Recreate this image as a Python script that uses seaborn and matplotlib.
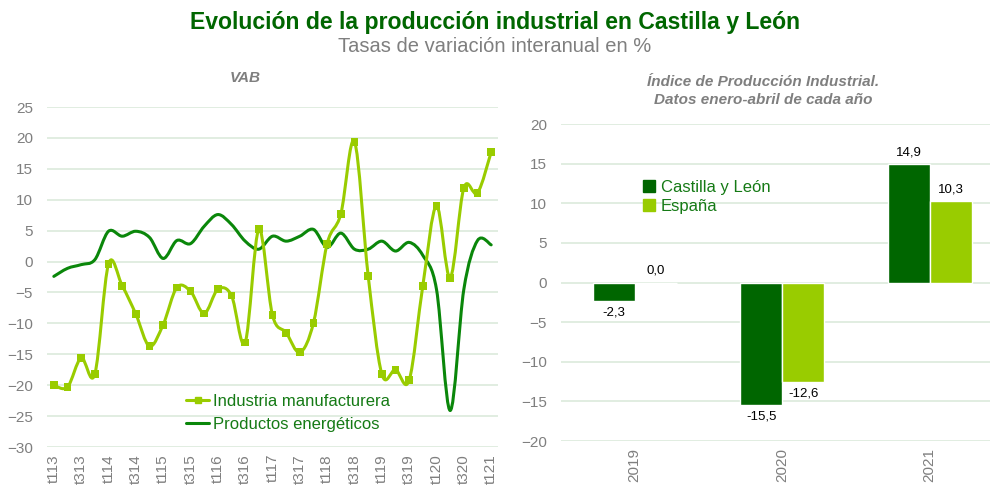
import numpy as np
import pandas as pd
import matplotlib.pyplot as plt
import seaborn as sns
from matplotlib.path import Path
from matplotlib.patches import PathPatch
from matplotlib.lines import Line2D
from matplotlib import font_manager

# VAB: tasas de variación interanual por trimestre (t113 = 1er trim. 2013)
trimestres = ['t113', 't213', 't313', 't413', 't114', 't214', 't314', 't414',
              't115', 't215', 't315', 't415', 't116', 't216', 't316', 't416',
              't117', 't217', 't317', 't417', 't118', 't218', 't318', 't418',
              't119', 't219', 't319', 't419', 't120', 't220', 't320', 't420',
              't121']
industria = [-20.0, -20.3, -15.6, -18.2, -0.4, -3.9, -8.5, -13.7,
             -10.2, -4.2, -4.8, -8.4, -4.5, -5.5, -13.1, 5.2,
             -8.7, -11.5, -14.7, -9.9, 2.9, 7.7, 19.4, -2.3,
             -18.2, -17.5, -19.2, -3.9, 9.0, -2.6, 11.9, 11.1, 17.7]
energeticos = [-2.4, -1.1, -0.5, 0.3, 4.9, 4.1, 4.9, 3.9,
               0.5, 3.4, 2.9, 5.7, 7.6, 6.0, 3.3, 2.0,
               4.1, 3.3, 4.1, 5.2, 2.3, 4.6, 2.0, 2.0,
               3.3, 1.7, 3.1, 1.0, -4.5, -24.1, -4.5, 3.4, 2.7]

# IPI, datos enero-abril
anios = ['2019', '2020', '2021']
ipi_cyl = [-2.3, -15.5, 14.9]
ipi_esp = [0.0, -12.6, 10.3]

verde_osc = '#006600'
verde_claro = '#99CC00'
verde_linea = '#0A870A'
verde_texto = '#157A15'
gris = '#7F7F7F'
rejilla = '#DCEADC'

sns.set_theme(style='white')
plt.rcParams['font.family'] = ['Liberation Sans', 'DejaVu Sans']

nombres = {f.name for f in font_manager.fontManager.ttflist}
hay_narrow = 'Liberation Sans Narrow' in nombres
fuente_tit = ['Liberation Sans Narrow', 'Liberation Sans'] if hay_narrow else ['Liberation Sans']


def curva_suave(ax, x, y, color, lw):
    # linea suavizada tipo Excel (bezier por los puntos)
    x = np.asarray(x, float)
    y = np.asarray(y, float)
    xp = np.concatenate([[x[0]], x, [x[-1]]])
    yp = np.concatenate([[y[0]], y, [y[-1]]])
    verts = [(x[0], y[0])]
    codes = [Path.MOVETO]
    for i in range(len(x) - 1):
        c1 = (x[i] + (xp[i + 2] - xp[i]) / 6, y[i] + (yp[i + 2] - yp[i]) / 6)
        c2 = (x[i + 1] - (xp[i + 3] - xp[i + 1]) / 6, y[i + 1] - (yp[i + 3] - yp[i + 1]) / 6)
        verts += [c1, c2, (x[i + 1], y[i + 1])]
        codes += [Path.CURVE4] * 3
    ax.add_patch(PathPatch(Path(verts, codes), facecolor='none', edgecolor=color,
                           lw=lw, capstyle='round', joinstyle='round', zorder=3))


fig = plt.figure(figsize=(9.9, 4.9), dpi=100)
ax1 = fig.add_axes([47 / 990, 43 / 490, 451 / 990, 340 / 490])
ax2 = fig.add_axes([561 / 990, 49 / 490, 429 / 990, 317 / 490])

# ---- VAB ----
df_vab = pd.DataFrame({'pos': np.arange(len(trimestres)), 'industria': industria,
                       'energeticos': energeticos})
curva_suave(ax1, df_vab.pos, df_vab.energeticos, verde_linea, 2.2)
curva_suave(ax1, df_vab.pos, df_vab.industria, verde_claro, 2.2)
sns.scatterplot(data=df_vab, x='pos', y='industria', marker='s', color=verde_claro,
                s=32, edgecolor='none', ax=ax1, zorder=4)
ax1.set_xlim(-0.5, len(trimestres) - 0.5)
ax1.set_ylim(-30, 25)
ax1.set_yticks(range(-30, 26, 5))
ax1.set_xticks(df_vab.pos[::2])
ax1.set_xticklabels(trimestres[::2], rotation=90)
ax1.set_xlabel('')
ax1.set_ylabel('')

h1 = [Line2D([0], [0], color=verde_claro, lw=2.2, marker='s', markersize=5),
      Line2D([0], [0], color=verde_linea, lw=2.2)]
ax1.legend(h1, ['Industria manufacturera', 'Productos energéticos'], loc='upper left',
           bbox_to_anchor=(0.29, 0.18), frameon=False, fontsize=12, labelcolor=verde_texto,
           handlelength=1.4, handletextpad=0.2, labelspacing=0.45, borderpad=0)

# ---- IPI ----
df_ipi = pd.DataFrame({'anio': anios * 2, 'valor': ipi_cyl + ipi_esp,
                       'zona': ['Castilla y León'] * 3 + ['España'] * 3})
sns.barplot(data=df_ipi, x='anio', y='valor', hue='zona', palette=[verde_osc, verde_claro],
            width=0.57, saturation=1, legend=False, ax=ax2, zorder=3)
for cont in ax2.containers:
    ax2.bar_label(cont, labels=[f'{v:.1f}'.replace('.', ',') for v in cont.datavalues],
                  padding=4, fontsize=9.5, color='black')
ax2.set_xlim(-0.5, 2.41)
ax2.set_ylim(-20, 20)
ax2.set_yticks(range(-20, 21, 5))
ax2.tick_params(axis='x', labelrotation=90)
ax2.set_xlabel('')
ax2.set_ylabel('')

h2 = [Line2D([0], [0], color=verde_osc, marker='s', ls='', markersize=9),
      Line2D([0], [0], color=verde_claro, marker='s', ls='', markersize=9)]
ax2.legend(h2, ['Castilla y León', 'España'], loc='upper left', bbox_to_anchor=(0.17, 0.85),
           frameon=False, fontsize=12, labelcolor=verde_texto, handlelength=0.8,
           handletextpad=0.3, labelspacing=0.25, borderpad=0)

for ax in (ax1, ax2):
    sns.despine(ax=ax, left=True, bottom=True)
    ax.yaxis.grid(True, color=rejilla, lw=1.2)
    ax.set_axisbelow(True)
    ax.tick_params(length=0, labelsize=11, colors=gris)
    ax.tick_params(axis='y', pad=10)
    ax.tick_params(axis='x', pad=5)

# ---- textos ----
fig.text(0.5, 1 - 22 / 490, 'Evolución de la producción industrial en Castilla y León',
         ha='center', va='center', family=fuente_tit, weight='bold',
         fontsize=18.5 if hay_narrow else 16.6, color=verde_osc)
fig.text(0.5, 1 - 46 / 490, 'Tasas de variación interanual en %', ha='center', va='center',
         family=fuente_tit, fontsize=15 if hay_narrow else 14.5, color=gris)
fig.text(245 / 990, 1 - 78 / 490, 'VAB', ha='center', va='center', style='italic',
         weight='bold', fontsize=11, color=gris)
fig.text(763 / 990, 1 - 91 / 490, 'Índice de Producción Industrial.\nDatos enero-abril de cada año',
         ha='center', va='center', multialignment='center', style='italic', weight='bold',
         fontsize=11, color=gris, linespacing=1.35)

plt.savefig('out.png', dpi=100)
